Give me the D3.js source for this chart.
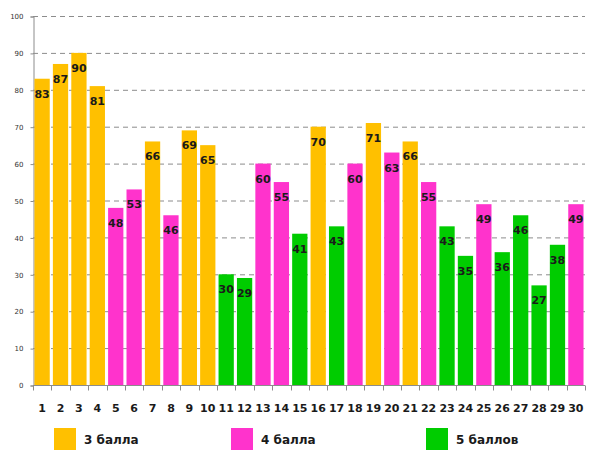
<!DOCTYPE html>
<html>
<head>
<meta charset="utf-8">
<script src="https://cdn.jsdelivr.net/npm/d3@7"></script>
<style>
  body { margin: 0; background: #fff; }
  svg { display: block; }
</style>
</head>
<body>
<script>
// data
const tasks = d3.range(1, 31).map(String);
const scores = [83, 87, 90, 81, 48, 53, 66, 46, 69, 65, 30, 29, 60, 55, 41,
                70, 43, 60, 71, 63, 66, 55, 43, 35, 49, 36, 46, 27, 38, 49];
const grades = [3, 3, 3, 3, 4, 4, 3, 4, 3, 3, 5, 5, 4, 4, 5,
                3, 5, 4, 3, 4, 3, 4, 5, 5, 4, 5, 5, 5, 5, 4];
const legendKeys = [3, 4, 5];
const legendLabels = ["3 балла", "4 балла", "5 баллов"];
const yTicks = d3.range(0, 101, 10);
// ----------

const w = 596;
const h = 466;
const p = { t: 16, r: 11, b: 81, l: 33 };

const colors = { 3: "#FFC000", 4: "#FF33CC", 5: "#00CC00" };

const svg = d3.select("body").append("svg")
  .attr("width", w)
  .attr("height", h);

const x = d3.scaleBand()
  .domain(tasks)
  .range([p.l, w - p.r])
  .paddingInner(0.17)
  .paddingOuter(0.08);

const y = d3.scaleLinear()
  .domain([0, 100])
  .range([h - p.b, p.t]);

// gridlines
svg.append("g")
  .selectAll("line")
  .data(yTicks.filter((d) => d > 0))
  .enter()
  .append("line")
  .attr("x1", p.l)
  .attr("x2", w - p.r)
  .attr("y1", (d) => y(d) + 0.5)
  .attr("y2", (d) => y(d) + 0.5)
  .attr("stroke", "#8c8c8c")
  .attr("stroke-dasharray", "5,4");

// y axis
const yAxis = svg.append("g")
  .attr("transform", `translate(${p.l + 0.5}, 0.5)`)
  .call(d3.axisLeft(y).tickValues(yTicks).tickSize(3).tickPadding(7));
yAxis.select(".domain").attr("stroke", "#8c8c8c");
yAxis.selectAll(".tick line").attr("stroke", "#8c8c8c");
yAxis.selectAll("text")
  .attr("font-family", "Verdana, DejaVu Sans, sans-serif")
  .attr("font-size", 7)
  .attr("fill", "#333");

// bars
svg.append("g")
  .selectAll("rect")
  .data(scores)
  .enter()
  .append("rect")
  .attr("x", (d, i) => x(tasks[i]))
  .attr("y", (d) => y(d))
  .attr("width", x.bandwidth())
  .attr("height", (d) => y(0) - y(d))
  .attr("fill", (d, i) => colors[grades[i]]);

// value labels
svg.append("g")
  .selectAll("text")
  .data(scores)
  .enter()
  .append("text")
  .text((d) => d)
  .attr("x", (d, i) => x(tasks[i]) + x.bandwidth() / 2)
  .attr("y", (d) => y(d) + 19)
  .attr("text-anchor", "middle")
  .attr("font-family", "Verdana, DejaVu Sans, sans-serif")
  .attr("font-weight", "bold")
  .attr("font-size", 11)
  .attr("fill", "#1a1a1a");

// x axis
const step = x.step();
const xAxis = svg.append("g")
  .attr("transform", `translate(0, ${y(0) + 0.5})`);
xAxis.append("line")
  .attr("x1", p.l)
  .attr("x2", w - p.r)
  .attr("stroke", "#8c8c8c");
xAxis.selectAll(".tk")
  .data(d3.range(0, tasks.length + 1))
  .enter()
  .append("line")
  .attr("class", "tk")
  .attr("x1", (d) => Math.round(p.l + d * (w - p.r - p.l) / tasks.length) + 0.5)
  .attr("x2", (d) => Math.round(p.l + d * (w - p.r - p.l) / tasks.length) + 0.5)
  .attr("y1", 0)
  .attr("y2", 5)
  .attr("stroke", "#8c8c8c");
xAxis.selectAll("text")
  .data(tasks)
  .enter()
  .append("text")
  .text((d) => d)
  .attr("x", (d) => x(d) + x.bandwidth() / 2)
  .attr("y", 26)
  .attr("text-anchor", "middle")
  .attr("font-family", "Verdana, DejaVu Sans, sans-serif")
  .attr("font-weight", "bold")
  .attr("font-size", 11)
  .attr("fill", "#1a1a1a");

// legend
const legendX = d3.scaleOrdinal().domain(legendKeys).range([54, 231, 426]);
const legend = svg.append("g")
  .attr("transform", `translate(0, 428)`);
legend.selectAll("rect")
  .data(legendKeys)
  .enter()
  .append("rect")
  .attr("x", (d) => legendX(d))
  .attr("y", 0)
  .attr("width", 22)
  .attr("height", 22)
  .attr("fill", (d) => colors[d]);
legend.selectAll("text")
  .data(legendKeys)
  .enter()
  .append("text")
  .text((d, i) => legendLabels[i])
  .attr("x", (d) => legendX(d) + 30)
  .attr("y", 16)
  .attr("font-family", "Verdana, DejaVu Sans, sans-serif")
  .attr("font-weight", "bold")
  .attr("font-size", 12)
  .attr("fill", "#1a1a1a");
</script>
</body>
</html>
